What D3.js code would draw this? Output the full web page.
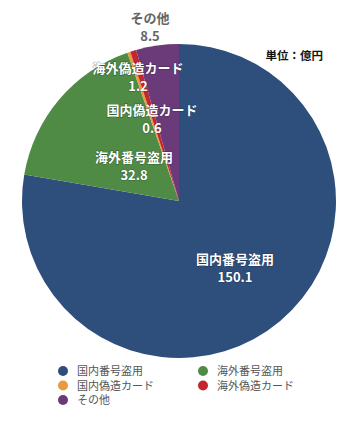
<!DOCTYPE html>
<html>
<head>
<meta charset="utf-8">
<script src="https://cdn.jsdelivr.net/npm/d3@7"></script>
<style>
  body { margin: 0; background: #fff; }
  svg text { font-family: "Noto Sans CJK JP", "Noto Sans", sans-serif; }
</style>
</head>
<body>
<div id="chart"></div>
<script>
// data (unit: 億円)
const categories = ["国内番号盗用", "海外番号盗用", "国内偽造カード", "海外偽造カード", "その他"];
const values = [150.1, 32.8, 0.6, 1.2, 8.5];
const colors = ["#2e4f7c", "#4f8b45", "#e89a3c", "#c4262e", "#6b3a79"];

const width = 360, height = 425;
const cx = 179, cy = 201, r = 157;

const svg = d3.select("#chart").append("svg")
    .attr("width", width)
    .attr("height", height);

const data = categories.map((c, i) => ({ name: c, value: values[i], color: colors[i] }));

const pie = d3.pie().sort(null).value(d => d.value);
const arcs = pie(data);
const arc = d3.arc().innerRadius(0).outerRadius(r);

const g = svg.append("g").attr("transform", `translate(${cx},${cy})`);

g.selectAll("path")
    .data(arcs)
    .enter()
    .append("path")
    .attr("d", arc)
    .attr("fill", d => d.data.color);

// label positions (relative to centre), picked by hand for readability
const labelPos = {
    "国内番号盗用": [56, 63],
    "海外番号盗用": [-45, -39],
    "国内偽造カード": [-27, -86],
    "海外偽造カード": [-41, -128],
    "その他": [-29, -178]
};

arcs.forEach(d => {
    const [lx, ly] = labelPos[d.data.name];
    const outside = d.data.name === "その他";
    [d.data.name, d.data.value].forEach((txt, k) => {
        g.append("text")
            .attr("x", lx)
            .attr("y", ly + k * 18)
            .attr("text-anchor", "middle")
            .attr("font-size", 13)
            .attr("font-weight", "bold")
            .attr("fill", outside ? "#666" : "#fff")
            .attr("stroke", outside ? "#fff" : "rgba(0,0,0,0.3)")
            .attr("stroke-width", outside ? 2 : 1.2)
            .attr("paint-order", "stroke")
            .text(txt);
    });
});

svg.append("text")
    .attr("x", 323)
    .attr("y", 60)
    .attr("text-anchor", "end")
    .attr("font-size", 11.5)
    .attr("font-weight", "bold")
    .attr("fill", "#111")
    .text("単位：億円");

// legend
const legend = svg.append("g");
const legendItems = legend.selectAll("g")
    .data(data)
    .enter()
    .append("g")
    .attr("transform", (d, i) => `translate(${i % 2 === 0 ? 63 : 203},${371 + Math.floor(i / 2) * 14.5})`);

legendItems.append("circle")
    .attr("r", 5)
    .attr("fill", d => d.color);

legendItems.append("text")
    .attr("x", 14)
    .attr("y", 4)
    .attr("font-size", 11)
    .attr("fill", "#555")
    .text(d => d.name);
</script>
</body>
</html>
